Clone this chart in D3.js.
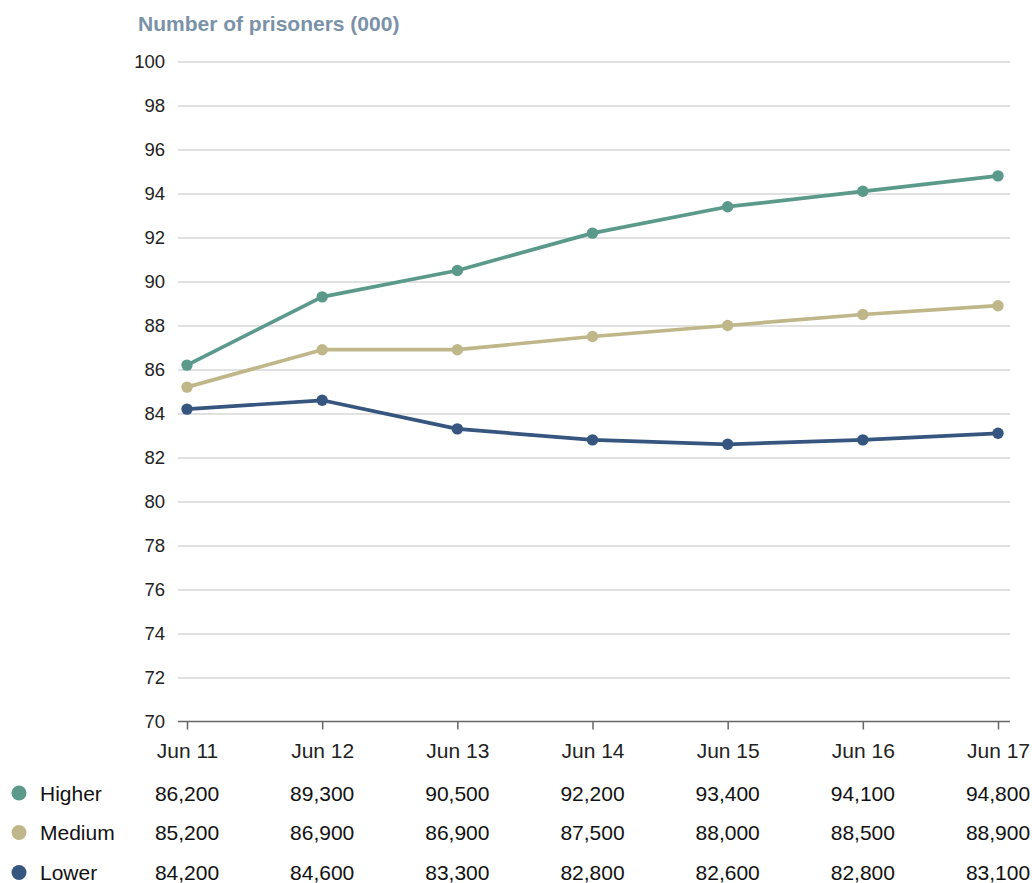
<!DOCTYPE html>
<html>
<head>
<meta charset="utf-8">
<script src="https://cdn.jsdelivr.net/npm/d3@7"></script>
<style>
  html, body { margin: 0; padding: 0; background: #fff; }
  svg { display: block; font-family: "Liberation Sans", Arial, Helvetica, sans-serif; }
</style>
</head>
<body>
<svg id="chart" width="1032" height="883"></svg>
<script>
// Prison population by security category (thousands), June of each year
const periods = ["Jun 11", "Jun 12", "Jun 13", "Jun 14", "Jun 15", "Jun 16", "Jun 17"];
const higher = [86200, 89300, 90500, 92200, 93400, 94100, 94800];
const medium = [85200, 86900, 86900, 87500, 88000, 88500, 88900];
const lower  = [84200, 84600, 83300, 82800, 82600, 82800, 83100];
const seriesNames = ["Higher", "Medium", "Lower"];
const seriesColors = ["#5b9a8b", "#bfb68a", "#36557f"];
const yTicks = [70, 72, 74, 76, 78, 80, 82, 84, 86, 88, 90, 92, 94, 96, 98, 100];

const series = [higher, medium, lower].map((vals, i) => ({
  name: seriesNames[i], color: seriesColors[i], values: vals
}));

const svg = d3.select("#chart");
const fontStack = "\"Liberation Sans\", Arial, sans-serif";

const x = d3.scalePoint().domain(periods).range([187, 998]);
const y = d3.scaleLinear().domain([70, 100]).range([721.5, 61.5]);

// Title
svg.append("text")
  .attr("x", 138).attr("y", 31)
  .attr("fill", "#7a92a8")
  .attr("font-size", 21).attr("font-weight", "bold")
  .text("Number of prisoners (000)");

// Gridlines and y labels
const yAxis = d3.axisLeft(y).tickValues(yTicks).tickSize(-(1010 - 178)).tickPadding(13).tickFormat(d3.format("d"));
const gy = svg.append("g").attr("transform", "translate(178,0)").call(yAxis);
gy.select(".domain").remove();
gy.selectAll(".tick line").attr("stroke", "#c4c4c4").attr("stroke-width", 1.2);
gy.selectAll(".tick").filter(d => d === 70).select("line").remove();
gy.selectAll(".tick text")
  .attr("fill", "#222").attr("font-size", 18.5)
  .attr("font-family", fontStack);

// X axis
const xAxis = d3.axisBottom(x).tickSize(7).tickSizeOuter(0).tickPadding(15);
const gx = svg.append("g").attr("transform", `translate(0,${y(70)})`).call(xAxis);
gx.select(".domain").attr("d", `M178,0H1010`).attr("stroke", "#666").attr("stroke-width", 1.5);
gx.selectAll(".tick line").attr("stroke", "#666").attr("stroke-width", 1.5).attr("y1", 0).attr("y2", 8);
gx.selectAll(".tick text")
  .attr("fill", "#222").attr("font-size", 21)
  .attr("font-family", fontStack);

// Lines and markers
const line = d3.line()
  .x((d, i) => x(periods[i]))
  .y(d => y(d / 1000));

series.slice().reverse().forEach(s => {
  svg.append("path")
    .datum(s.values)
    .attr("d", line)
    .attr("fill", "none")
    .attr("stroke", s.color)
    .attr("stroke-width", 3.7)
    .attr("stroke-linejoin", "round");
  svg.append("g").selectAll("circle")
    .data(s.values)
    .join("circle")
    .attr("cx", (d, i) => x(periods[i]))
    .attr("cy", d => y(d / 1000))
    .attr("r", 5.7)
    .attr("fill", s.color);
});

// Data table with legend keys
const rowY = [800.5, 840, 880];
const fmt = d3.format(",");
series.forEach((s, r) => {
  const row = svg.append("g");
  row.append("circle").attr("cx", 19).attr("cy", rowY[r] - 7.5).attr("r", 7.5).attr("fill", s.color);
  row.append("text").attr("x", 40).attr("y", rowY[r])
    .attr("font-size", 21).attr("fill", "#111").text(s.name);
  row.selectAll("text.val")
    .data(s.values)
    .join("text")
    .attr("class", "val")
    .attr("x", (d, i) => x(periods[i]))
    .attr("y", rowY[r])
    .attr("text-anchor", "middle")
    .attr("font-size", 21).attr("fill", "#111")
    .text(d => fmt(d));
});
</script>
</body>
</html>
